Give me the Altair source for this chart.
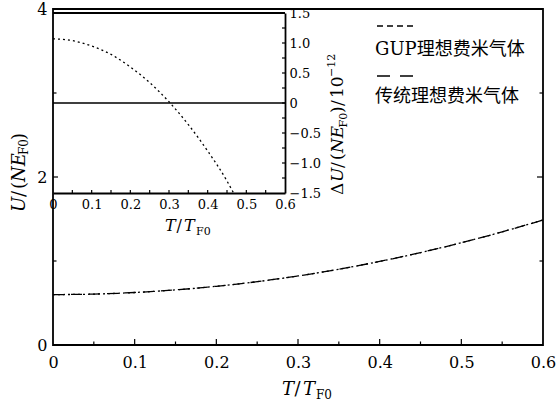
import altair as alt
import pandas as pd

# ---------------- data ----------------
T_MAIN = [0.00, 0.05, 0.10, 0.15, 0.20, 0.25, 0.30, 0.35, 0.40, 0.45, 0.50, 0.55, 0.60]
U_GUP = [0.600, 0.606, 0.625, 0.656, 0.699, 0.754, 0.822, 0.902, 0.995, 1.100, 1.217, 1.347, 1.488]
U_TRAD = [0.600, 0.606, 0.625, 0.656, 0.699, 0.754, 0.822, 0.902, 0.995, 1.100, 1.217, 1.347, 1.488]

T_INSET = [0.00, 0.05, 0.10, 0.15, 0.20, 0.25, 0.30, 0.35, 0.40, 0.45, 0.467]
DU_GUP = [1.07, 1.04, 0.95, 0.81, 0.60, 0.34, 0.02, -0.36, -0.80, -1.30, -1.50]
T_INSET_TRAD = [0.0, 0.6]
DU_TRAD = [0.0, 0.0]

MAIN_X_LABELS = [0.0, 0.1, 0.2, 0.3, 0.4, 0.5, 0.6]
MAIN_X_MAJOR = [0.1, 0.2, 0.3, 0.4, 0.5]
MAIN_X_MINOR = [0.05, 0.15, 0.25, 0.35, 0.45, 0.55]
MAIN_Y_LABELS = [0, 2, 4]
MAIN_Y_MAJOR = [2]
MAIN_Y_MINOR = [1, 3]
INSET_X_LABELS = [0.0, 0.1, 0.2, 0.3, 0.4, 0.5, 0.6]
INSET_X_TICKS = [0.05, 0.10, 0.15, 0.20, 0.25, 0.30, 0.35, 0.40, 0.45, 0.50, 0.55]
INSET_Y_LABELS = [-1.5, -1.0, -0.5, 0.0, 0.5, 1.0, 1.5]
INSET_Y_TICKS = [-1.25, -1.0, -0.75, -0.5, -0.25, 0.0, 0.25, 0.5, 0.75, 1.0, 1.25]
LEGEND_LABELS = ["GUP理想费米气体", "传统理想费米气体"]

# ---------------- geometry / style ----------------
W, H = 490, 336
IW, IT, IB = 232, 4, 184
SERIF = "DejaVu Serif"
CJK = "DejaVu Serif, Noto Sans CJK SC"
LBL = "datum.value == 0 ? '0' : format(datum.value, '.1f')"
LBL_SIGNED = "datum.value == 0 ? '0' : (datum.value < 0 ? '−' + format(-datum.value, '.1f') : format(datum.value, '.1f'))"

common_axis = dict(title=None, grid=False, ticks=False, tickSize=0, labelFont=SERIF,
                   labelColor="black", labelFlush=False, labelOverlap=False)

ax_x = alt.Axis(orient="bottom", values=MAIN_X_LABELS, labelExpr=LBL, domain=False,
                labelFontSize=16, labelPadding=9, **common_axis)
ax_y = alt.Axis(orient="left", values=MAIN_Y_LABELS, format="d", domain=False,
                labelFontSize=16, labelPadding=6, **common_axis)
ax_ix = alt.Axis(orient="bottom", offset=-(H - IB), values=INSET_X_LABELS, labelExpr=LBL,
                 domain=True, domainColor="black", domainWidth=1.8,
                 labelFontSize=13, labelPadding=5, **common_axis)
ax_iy = alt.Axis(orient="right", offset=-(W - IW), values=INSET_Y_LABELS, labelExpr=LBL_SIGNED,
                 domain=True, domainColor="black", domainWidth=1.8,
                 labelFontSize=13, labelPadding=4, **common_axis)

sx = alt.Scale(domain=[0, 0.6], nice=False, zero=False)
sy = alt.Scale(domain=[0, 4], nice=False, zero=False)
isx = alt.Scale(domain=[0, 0.6], range=[0, IW], nice=False, zero=False)
isy = alt.Scale(domain=[-1.5, 1.5], range=[IB, IT], nice=False, zero=False)

X_M = alt.X("x:Q", scale=sx, axis=ax_x)
Y_M = alt.Y("y:Q", scale=sy, axis=ax_y)
X_I = alt.X("x:Q", scale=isx, axis=ax_ix)
Y_I = alt.Y("y:Q", scale=isy, axis=ax_iy)


def line(xs, ys, X, Y, dash, width=1.3):
    return alt.Chart(pd.DataFrame({"x": xs, "y": ys})).mark_line(
        color="black", strokeWidth=width, strokeDash=dash, interpolate="monotone"
    ).encode(x=X, y=Y)


def xticks(vals, X, base, size):
    return alt.Chart(pd.DataFrame({"x": vals})).mark_rule(color="black", strokeWidth=1.2).encode(
        x=X, y=alt.value(base), y2=alt.value(base - size))


def yticks(vals, Y, base, size):
    return alt.Chart(pd.DataFrame({"y": vals})).mark_rule(color="black", strokeWidth=1.2).encode(
        y=Y, x=alt.value(base), x2=alt.value(base + size))


def piece(txt, x, y, size, italic=False, angle=0, font=SERIF, baseline="alphabetic"):
    kw = dict(align="left", baseline=baseline, font=font, fontSize=size, color="black")
    if italic:
        kw["fontStyle"] = "italic"
    if angle:
        kw["angle"] = angle
    return alt.Chart(pd.DataFrame({"s": [txt]})).mark_text(**kw).encode(
        text="s:N", x=alt.value(x), y=alt.value(y))


def hrun(specs, x0, y0):
    out, x = [], x0
    for txt, size, it, shift, adv in specs:
        out.append(piece(txt, x, y0 + shift, size, it))
        x += adv
    return out


def vrun(specs, x0, y0):
    out, y = [], y0
    for txt, size, it, shift, adv in specs:
        out.append(piece(txt, x0 + shift, y, size, it, angle=270))
        y -= adv
    return out


main_layers = [
    line(T_MAIN, U_TRAD, X_M, Y_M, [11, 7]),
    line(T_MAIN, U_GUP, X_M, Y_M, [2, 3]),
    xticks(MAIN_X_MAJOR, X_M, H, 6),
    xticks(MAIN_X_MINOR, X_M, H, 3.5),
    yticks(MAIN_Y_MAJOR, Y_M, 0, 5),
    yticks(MAIN_Y_MINOR, Y_M, 0, 3.5),
    yticks(MAIN_Y_MAJOR, Y_M, W, -6),
    yticks(MAIN_Y_MINOR, Y_M, W, -3.5),
    # legend
    alt.Chart(pd.DataFrame({"a": [0]})).mark_rule(color="black", strokeWidth=1.3, strokeDash=[6, 4]).encode(
        x=alt.value(324), x2=alt.value(362), y=alt.value(17)),
    alt.Chart(pd.DataFrame({"a": [0]})).mark_rule(color="black", strokeWidth=1.3, strokeDash=[13, 10]).encode(
        x=alt.value(324), x2=alt.value(360), y=alt.value(67)),
    piece(LEGEND_LABELS[0], 322, 41, 18, font=CJK, baseline="middle"),
    piece(LEGEND_LABELS[1], 322, 88, 18, font=CJK, baseline="middle"),
]

# main x title  T/T_F0
main_layers += hrun([("T", 18, True, 0, 12.5), ("/", 18, False, 0, 8.5),
                     ("T", 18, True, 0, 13), ("F0", 12, False, 4, 15)], 229, 386)
# main y title  U/(NE_F0)
main_layers += vrun([("U", 18, True, 0, 15), ("/", 18, False, 0, 8), ("(", 18, False, 0, 7),
                     ("NE", 18, True, 0, 27), ("F0", 12, False, 3, 15), (")", 18, False, 0, 7)], -28, 203)

inset_layers = [
    line(T_INSET_TRAD, DU_TRAD, X_I, Y_I, [1, 0], width=1.6),
    line(T_INSET, DU_GUP, X_I, Y_I, [2, 3]),
    xticks(INSET_X_TICKS, X_I, IB, 3),
    yticks(INSET_Y_TICKS, Y_I, IW, -3),
    alt.Chart(pd.DataFrame({"a": [0]})).mark_rule(color="black", strokeWidth=1.8).encode(
        x=alt.value(0), x2=alt.value(IW), y=alt.value(IT)),
]
# inset x title
inset_layers += hrun([("T", 16, True, 0, 11.5), ("/", 16, False, 0, 7.5),
                      ("T", 16, True, 0, 12), ("F0", 11, False, 4, 14)], 112, 222)
# inset y title  ΔU/(NE_F0)/10^-12
inset_layers += vrun([("Δ", 17, False, 0, 13), ("U", 17, True, 0, 14), ("/", 17, False, 0, 8),
                      ("(", 17, False, 0, 7), ("NE", 17, True, 0, 25.5), ("F0", 11, False, 4, 14.5),
                      (")", 17, False, 0, 7), ("/", 17, False, 0, 8), ("10", 17, False, 0, 21),
                      ("−12", 11, False, -8, 20)], 290, 186)

chart = alt.layer(alt.layer(*main_layers), alt.layer(*inset_layers)).resolve_scale(
    x="independent", y="independent"
).properties(
    width=W, height=H,
    padding={"left": 53, "top": 9, "right": 13, "bottom": 66},
    autosize=alt.AutoSizeParams(type="none"),
    background="white",
).configure_view(stroke="black", strokeWidth=1.8)

chart.save("out.html", embed_options={"renderer": "svg", "actions": False})
